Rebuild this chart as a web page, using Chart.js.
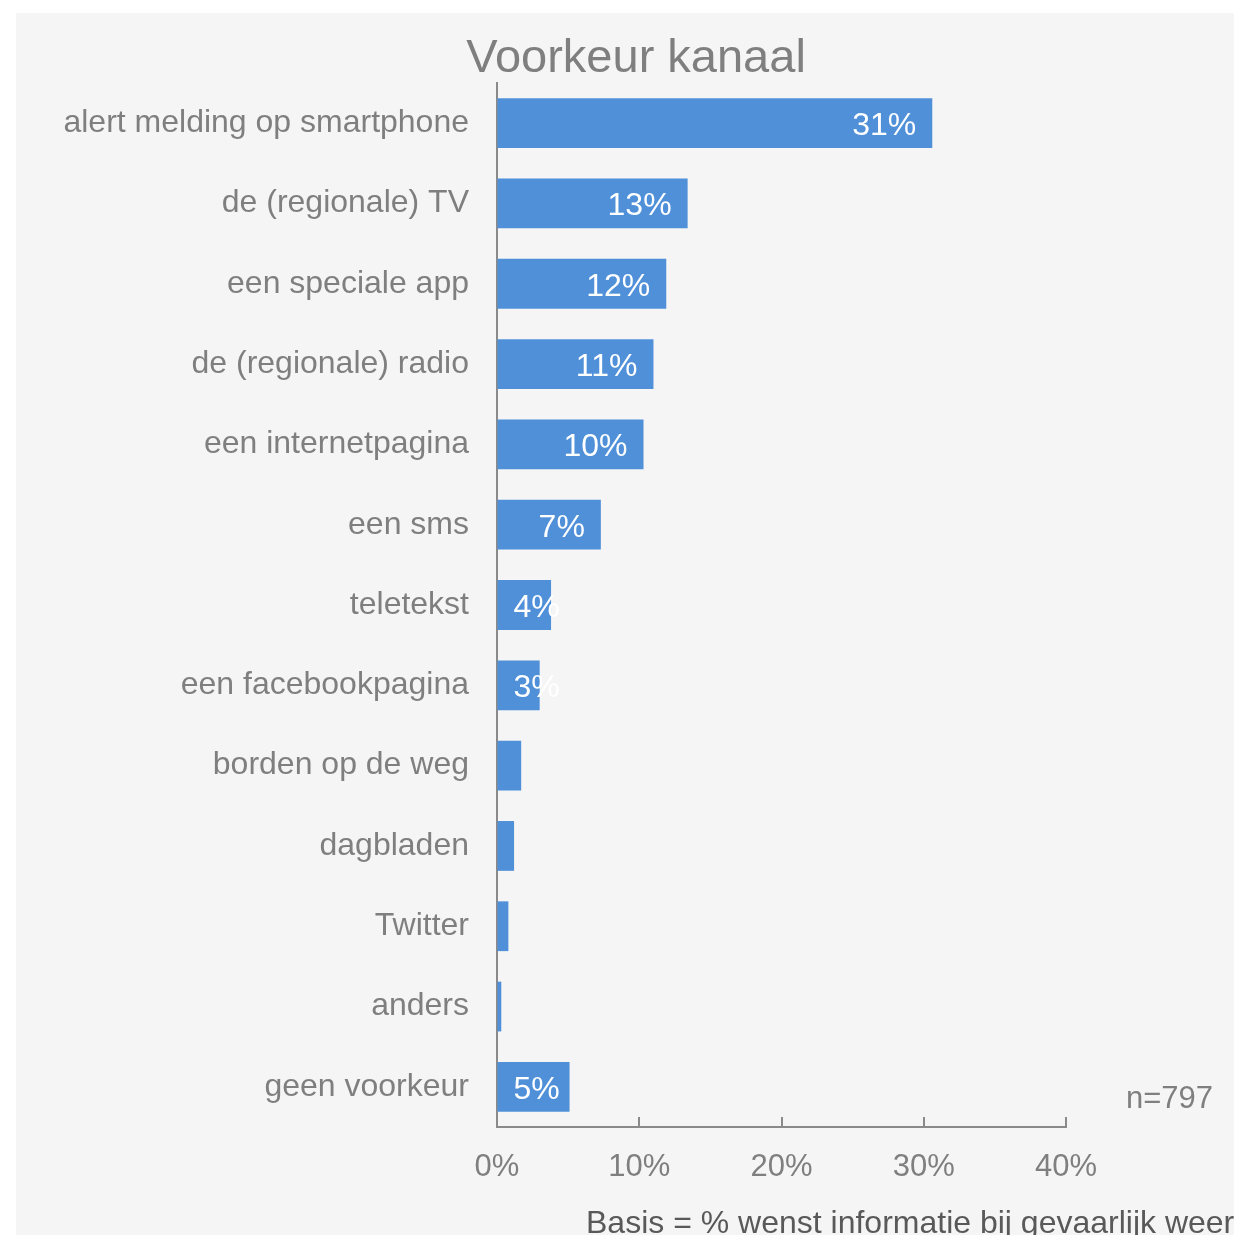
<!DOCTYPE html>
<html>
<head>
<meta charset="utf-8">
<script src="https://cdn.jsdelivr.net/npm/chart.js@4/dist/chart.umd.min.js"></script>
<style>
html, body { margin: 0; padding: 0; background: #ffffff; }
</style>
</head>
<body>
<canvas id="BarChart" width="1234" height="1235"></canvas>
<script>
const channels = [
    'alert melding op smartphone',
    'de (regionale) TV',
    'een speciale app',
    'de (regionale) radio',
    'een internetpagina',
    'een sms',
    'teletekst',
    'een facebookpagina',
    'borden op de weg',
    'dagbladen',
    'Twitter',
    'anders',
    'geen voorkeur'
];
const shares = [30.6, 13.4, 11.9, 11.0, 10.3, 7.3, 3.8, 3.0, 1.7, 1.2, 0.8, 0.3, 5.1];
const shareLabels = ['31%', '13%', '12%', '11%', '10%', '7%', '4%', '3%', '', '', '', '', '5%'];
const xTicks = [0, 10, 20, 30, 40];

const FONT = '"Liberation Sans", Arial, sans-serif';
const GREY = '#7f7f7f';
const AXIS = '#8a8a8a';

// panel, title, notes, inward tick marks and the value labels
const extras = {
    id: 'extras',
    beforeDraw(chart) {
        const ctx = chart.ctx;
        ctx.save();
        ctx.fillStyle = '#f5f5f5';
        ctx.fillRect(16, 13, chart.width - 16, chart.height - 13);
        ctx.restore();
    },
    afterDatasetsDraw(chart) {
        const ctx = chart.ctx;
        const meta = chart.getDatasetMeta(0);
        ctx.save();
        ctx.font = '32px ' + FONT;
        ctx.fillStyle = '#ffffff';
        ctx.textBaseline = 'middle';
        ctx.textAlign = 'left';
        meta.data.forEach((bar, i) => {
            const txt = shareLabels[i];
            if (!txt) return;
            const w = ctx.measureText(txt).width;
            const x = Math.max(bar.base + 16, bar.x - 16 - w);
            ctx.fillText(txt, x, bar.y + 3);
        });
        ctx.restore();
    },
    afterDraw(chart) {
        const ctx = chart.ctx;
        const xs = chart.scales.x;
        const area = chart.chartArea;
        ctx.save();
        ctx.strokeStyle = AXIS;
        ctx.lineWidth = 2;
        xTicks.forEach(v => {
            const px = Math.round(xs.getPixelForValue(v));
            ctx.beginPath();
            ctx.moveTo(px, area.bottom);
            ctx.lineTo(px, area.bottom - 10);
            ctx.stroke();
        });

        ctx.fillStyle = GREY;
        ctx.font = '47px ' + FONT;
        ctx.textAlign = 'center';
        ctx.textBaseline = 'alphabetic';
        ctx.fillText('Voorkeur kanaal', 636, 72);

        ctx.font = '31px ' + FONT;
        ctx.textAlign = 'left';
        ctx.fillText('n=797', 1126, 1108);

        ctx.fillStyle = '#595959';
        ctx.font = '32px ' + FONT;
        ctx.fillText('Basis = % wenst informatie bij gevaarlijk weer', 586, 1233);
        ctx.restore();
    }
};

MakeChart();

function MakeChart() {
    const ctx = document.getElementById('BarChart');
    new Chart(ctx, {
        type: 'bar',
        data: {
            labels: channels,
            datasets: [{
                data: shares,
                backgroundColor: '#4f90d9',
                borderWidth: 0,
                categoryPercentage: 1,
                barPercentage: 0.62
            }]
        },
        plugins: [extras],
        options: {
            indexAxis: 'y',
            responsive: false,
            animation: false,
            layout: {
                padding: { top: 83, left: 0, right: 168, bottom: 48 }
            },
            plugins: {
                legend: { display: false },
                title: { display: false },
                tooltip: { enabled: false }
            },
            scales: {
                x: {
                    min: 0,
                    max: 40,
                    afterBuildTicks: s => { s.ticks = xTicks.map(v => ({ value: v })); },
                    afterFit: s => { s.height = 60; },
                    grid: { drawOnChartArea: false, drawTicks: false },
                    border: { color: AXIS, width: 2 },
                    ticks: {
                        color: GREY,
                        padding: 22,
                        font: { family: FONT, size: 31 },
                        callback: function(value) {
                            return value + '%';
                        }
                    }
                },
                y: {
                    afterFit: s => { s.width = 497; },
                    grid: { drawOnChartArea: false, drawTicks: false },
                    border: { color: AXIS, width: 2 },
                    ticks: {
                        color: GREY,
                        padding: 28,
                        font: { family: FONT, size: 32 }
                    }
                }
            }
        }
    });
}
</script>
</body>
</html>
